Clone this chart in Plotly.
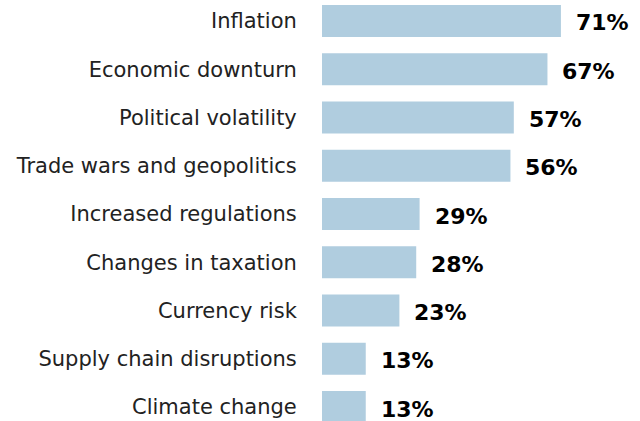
import plotly.graph_objects as go

categories = ["Inflation", "Economic downturn", "Political volatility",
              "Trade wars and geopolitics", "Increased regulations",
              "Changes in taxation", "Currency risk",
              "Supply chain disruptions", "Climate change"]
values = [71, 67, 57, 56, 29, 28, 23, 13, 13]
labels = [f"{v}%" for v in values]

fig = go.Figure()
fig.add_trace(go.Bar(
    x=values, y=categories, orientation="h",
    marker=dict(color="#b0cddf", line=dict(width=0)),
    hoverinfo="skip",
))
for c, v, t in zip(categories, values, labels):
    fig.add_annotation(x=v, y=c, text=f"<b>{t}</b>", showarrow=False,
                       xanchor="left", xshift=13, yshift=-2,
                       font=dict(family="DejaVu Sans", size=22, color="#000000"))

fig.update_layout(
    width=640, height=421,
    margin=dict(l=322, r=0, t=0, b=0),
    plot_bgcolor="white", paper_bgcolor="white",
    bargap=0.337, showlegend=False,
    xaxis=dict(range=[0, 94.5], visible=False, fixedrange=True),
    yaxis=dict(type="category", range=[8.29, -0.435], showgrid=False,
               zeroline=False, showline=False, ticks="outside",
               ticklen=20, tickcolor="rgba(0,0,0,0)",
               tickfont=dict(family="DejaVu Sans", size=21, color="#222222")),
)
fig.write_html("out.html")
